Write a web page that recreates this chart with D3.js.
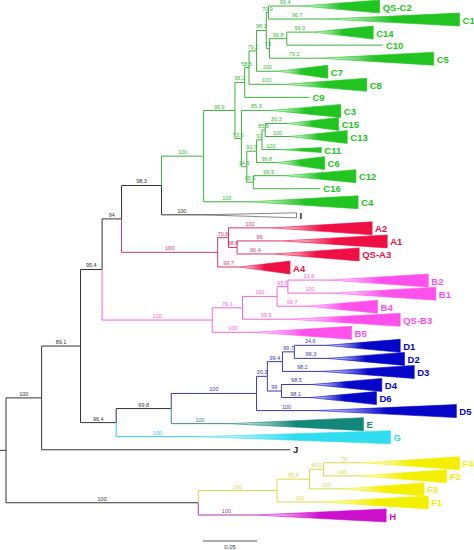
<!DOCTYPE html>
<html><head><meta charset="utf-8">
<script src="https://cdn.jsdelivr.net/npm/d3@7"></script>
<style>body{margin:0;background:#fff}svg{display:block}</style>
</head><body>
<script>
// parallel arrays describing the tree: node name, parent, depth (distance from root), bootstrap support, clade
const names = ["root","n42","n80","n102","n122","n162","gR","X1","Y96","Y58","Y79","Y98","Y70","QS-C2","C1","Y73","Y99","C14","C10","C5","C7","C8","C9","X2","C3","X3","X4","X6","X7","C15","C13","C11","C6","X5","C12","C16","C4","I","aR","A70","A2","A98","A1","QS-A3","A4","bR","B76","B100","B95","B2","B1","B4","QS-B3","B5","n116","n171","dR","D30","D994","D997","D1","D2","D3","D99","D4","D6","D5","E","G","J","fh","fR","F95","F46","F4","F2","F3","F1","H"];
const parents = ["","root","n42","n80","n102","n122","n162","gR","X1","Y96","Y58","Y79","Y98","Y70","Y70","Y98","Y73","Y99","Y99","Y73","Y79","Y58","Y96","X1","X2","X2","X3","X4","X6","X7","X7","X6","X4","X3","X5","X5","gR","n162","n122","aR","A70","A70","A98","A98","aR","n102","bR","B76","B100","B95","B95","B100","B76","bR","n80","n116","n171","dR","D30","D994","D997","D997","D994","D30","D99","D99","dR","n171","n116","n42","root","fh","fR","F95","F46","F46","F95","fR","fh"];
const depths = [0,.033,.069,.089,.107,.144,.183,.212,.221,.225,.232,.241,.243,.346,.420,.244,.260,.340,.349,.396,.298,.334,.281,.218,.310,.223,.232,.237,.240,.308,.316,.292,.295,.229,.324,.291,.326,.269,.196,.206,.339,.214,.353,.327,.263,.191,.219,.251,.261,.391,.398,.344,.365,.320,.102,.153,.232,.242,.256,.267,.365,.369,.378,.255,.348,.343,.417,.331,.356,.263,.178,.251,.281,.294,.420,.408,.387,.391,.352];
const supports = ["","100","89,1","95,4","94","98,3","100","99,9","96,2","58,5","79,2","98,1","70,9","99,4","96,7","73","99,8","99,9","","79,2","100","100","","73,5","85,9","14,9","91,3","91","85,5","30,3","100","100","99,8","65,9","99,9","","100","100","100","70,6","100","98,6","99","96,4","99,7","100","76,1","100","95,6","91,6","100","99,7","99,9","100","96,4","99,8","100","30,3","99,4","99,7","24,6","99,3","98,2","99","98,5","98,1","100","100","100","","100","100","95,9","46,5","79","100","100","100","100"];
// clade roots and their colours
const cladeRoots = ["root","gR","I","aR","bR","dR","E","G","fR","H"];
const cladeFill  = ["#333333","#22c422","#ffffff","#ee0f45","#ff50ec","#0606c8","#13877a","#30dcf0","#f4ef00","#cc10cc"];
const cladeLine  = ["#333333","#3cb43c","#333333","#d2376a","#f066d4","#3a3aa8","#3a8a88","#33c8ee","#d8d84a","#a83aa8"];
const lineLeaves = ["C10","C9","C16","J"];
const smallClades = ["C11","I"];
const scaleBar = 0.05, scaleLabel = "0,05";

const W = 474, H = 550;
const svg = d3.select("body").append("svg").attr("width", W).attr("height", H)
  .style("font-family", "Arial, 'Liberation Sans', sans-serif");
const x = d3.scaleLinear().domain([0, 0.1]).range([6, 114]);

const nodes = names.map((n, i) => ({name: n, parent: parents[i], depth: depths[i], sup: supports[i], children: []}));
const byName = new Map(nodes.map(d => [d.name, d]));
nodes.forEach(d => { if (d.parent) byName.get(d.parent).children.push(d); });
const leaves = nodes.filter(d => d.children.length === 0);
const y = d3.scalePoint().domain(leaves.map(d => d.name)).range([6, 515]);
function setY(d, ci) {
  const ix = cladeRoots.indexOf(d.name);
  d.ci = ix >= 0 ? ix : ci;
  d.children.forEach(c => setY(c, d.ci));
  d.y = d.children.length ? (d.children[0].y + d.children[d.children.length - 1].y) / 2 : y(d.name);
}
setY(byName.get("root"), 0);

const defs = svg.append("defs");
cladeFill.forEach((c, i) => {
  const g = defs.append("linearGradient").attr("id", "g" + i);
  g.append("stop").attr("offset", 0).attr("stop-color", "#fff");
  g.append("stop").attr("offset", 0.5).attr("stop-color", c);
});

const root = byName.get("root");
svg.append("path").attr("d", `M0,${root.y}H${x(0)}`).attr("stroke", cladeLine[0]).attr("fill", "none");

nodes.forEach(d => {
  if (!d.parent) return;
  const p = byName.get(d.parent);
  const px = x(p.depth), cx = x(d.depth);
  const leaf = d.children.length === 0, tri = leaf && !lineLeaves.includes(d.name);
  const endX = tri ? px + (cx - px) * 0.3 : cx;
  const col = cladeLine[d.ci];
  svg.append("path").attr("d", `M${px},${p.y}V${d.y}H${endX}`)
    .attr("stroke", col).attr("stroke-width", 1).attr("fill", "none");
  if (tri) {
    const h = smallClades.includes(d.name) ? 3 : 7;
    svg.append("path").attr("d", `M${endX},${d.y}L${cx},${d.y - h + 1}L${cx},${d.y + h}Z`)
      .attr("fill", `url(#g${d.ci})`).attr("stroke", d.name === "I" ? "#333" : cladeFill[d.ci]).attr("stroke-width", 0.6);
  }
  if (d.sup) {
    svg.append("text").attr("x", (px + endX) / 2).attr("y", d.y - 2).attr("text-anchor", "middle")
      .attr("font-size", 5.5).attr("fill", col).text(d.sup);
  }
  if (leaf) {
    svg.append("text").attr("x", cx + 3).attr("y", d.y + (tri ? 4.5 : 3.5))
      .attr("font-size", 9.5).attr("font-weight", "bold")
      .attr("fill", d.ci === 2 || d.ci === 0 ? "#222" : cladeFill[d.ci]).text(d.name);
  }
});

// scale bar
svg.append("line").attr("x1", 203).attr("x2", 203 + x(scaleBar) - x(0)).attr("y1", 541).attr("y2", 541).attr("stroke", "#555");
svg.append("text").attr("x", 203 + (x(scaleBar) - x(0)) / 2).attr("y", 549).attr("text-anchor", "middle")
  .attr("font-size", 6).attr("fill", "#444").text(scaleLabel);
</script>
</body></html>
